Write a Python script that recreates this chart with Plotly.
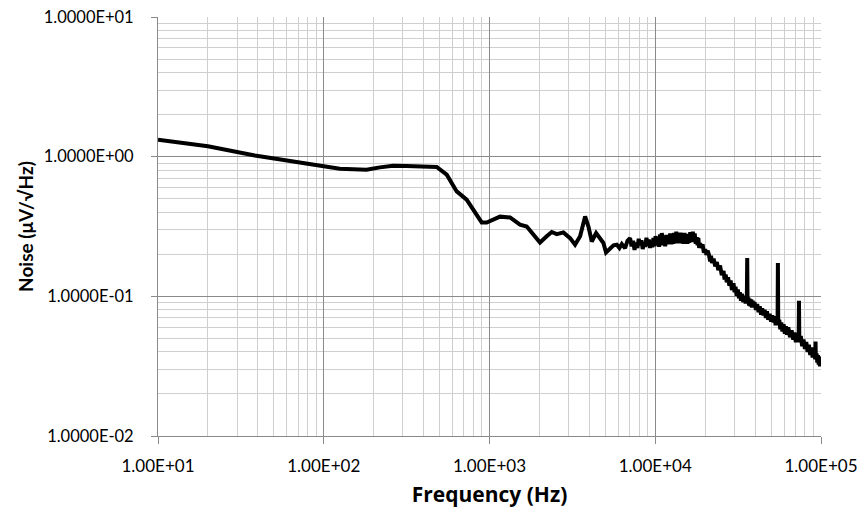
import plotly.graph_objects as go

# Frequency (Hz) and noise (uV/sqrt(Hz))
# Low-frequency part (smooth)
freq_low = [10, 20, 38.4, 60.7, 100, 125, 150, 181, 218, 262, 316, 398, 480,
            552, 634, 728, 798, 897, 962, 1054, 1157, 1330, 1459, 1528, 1677,
            1838, 2017, 2213, 2375, 2546, 2792, 3064, 3283, 3521, 3700, 3775,
            3953, 4142, 4397, 4648, 4866, 5047, 5340, 5600, 5862, 6080, 6283,
            6577, 6800]
noise_low = [1.32, 1.186, 1.02, 0.93, 0.855, 0.82, 0.807, 0.805, 0.838, 0.862, 0.858, 0.85, 0.845,
             0.743, 0.564, 0.492, 0.417, 0.338, 0.338, 0.357, 0.372, 0.367, 0.34, 0.326, 0.316,
             0.276, 0.243, 0.269, 0.289, 0.279, 0.287, 0.261, 0.234, 0.269, 0.34, 0.373,
             0.316, 0.247, 0.284, 0.261, 0.241, 0.206, 0.218, 0.232, 0.234, 0.222, 0.237,
             0.221, 0.25]

# Noisy plateau (about 7 kHz - 20 kHz)
freq_mid = [7048, 7200, 7350, 7500, 7650, 7800, 7950, 8110, 8250, 8400,
            8550, 8690, 8850, 9000, 9150, 9311, 9450, 9600, 9750, 9900,
            10050, 10230, 10400, 10550, 10700, 10850, 10960, 11100, 11300, 11480,
            11650, 11800, 12000, 12150, 12300, 12500, 12700, 12850, 13000, 13190,
            13400, 13600, 13810, 14000, 14200, 14400, 14600, 14800, 15000, 15200,
            15400, 15640, 15850, 16050, 16250, 16500, 16700, 16860, 17050, 17300,
            17550, 17820, 18000, 18200, 18400, 18660, 19000, 19300, 19650, 20000,
            20350, 20700]
noise_mid = [0.261, 0.228, 0.25, 0.215, 0.242, 0.222, 0.258, 0.232, 0.252, 0.218,
             0.245, 0.226, 0.262, 0.23, 0.255, 0.222, 0.25, 0.225, 0.262, 0.228,
             0.27, 0.232, 0.265, 0.226, 0.278, 0.235, 0.284, 0.232, 0.27, 0.228,
             0.275, 0.236, 0.272, 0.24, 0.282, 0.236, 0.274, 0.238, 0.285, 0.245,
             0.29, 0.24, 0.278, 0.242, 0.286, 0.24, 0.275, 0.238, 0.284, 0.244,
             0.28, 0.238, 0.276, 0.242, 0.288, 0.246, 0.278, 0.29, 0.245, 0.282,
             0.238, 0.265, 0.232, 0.262, 0.222, 0.24, 0.222, 0.236, 0.205, 0.218,
             0.198, 0.212]

# Roll-off with interference spikes (about 21 kHz - 100 kHz)
freq_high = [21050, 21440, 21700, 22000, 22500, 23000, 23540, 24000, 24600, 25200,
             25820, 26200, 26600, 27000, 27500, 28000, 28500, 29000, 29650, 30100,
             30500, 31000, 31500, 32000, 32400, 32900, 33330, 34000, 34500, 35100,
             35700, 35880, 36050, 36400, 36800, 37100, 37500, 37900, 38300, 38700,
             39170, 39700, 40500, 41200, 42000, 42700, 43500, 44200, 44990, 45700,
             46500, 47200, 48000, 49000, 50000, 50800, 51720, 52500, 53200, 54000,
             54700, 54950, 55200, 56000, 56800, 57600, 58500, 59500, 60500, 61400,
             62370, 63500, 65000, 66500, 68000, 69200, 70500, 71800, 73300, 73650,
             74000, 75500, 77000, 78500, 80000, 81500, 83000, 84500, 86100, 87500,
             89000, 90500, 92300, 92700, 93100, 94000, 95000, 96000, 96800, 97700,
             98500, 99300, 100000]
noise_high = [0.2, 0.178, 0.195, 0.173, 0.186, 0.164, 0.176, 0.154, 0.166, 0.142,
              0.152, 0.132, 0.143, 0.126, 0.137, 0.119, 0.13, 0.111, 0.124, 0.107,
              0.117, 0.101, 0.112, 0.097, 0.107, 0.093, 0.104, 0.091, 0.101, 0.089,
              0.099, 0.188, 0.09, 0.098, 0.086, 0.096, 0.085, 0.095, 0.083, 0.093,
              0.084, 0.091, 0.08, 0.088, 0.077, 0.085, 0.074, 0.082, 0.073, 0.08,
              0.07, 0.078, 0.068, 0.075, 0.066, 0.073, 0.065, 0.072, 0.062, 0.07,
              0.063, 0.173, 0.062, 0.068, 0.058, 0.065, 0.056, 0.063, 0.054, 0.061,
              0.053, 0.06, 0.051, 0.057, 0.049, 0.055, 0.047, 0.052, 0.047, 0.0929,
              0.047, 0.052, 0.044, 0.049, 0.042, 0.047, 0.04, 0.045, 0.038, 0.043,
              0.0365, 0.041, 0.0355, 0.0474, 0.0355, 0.039, 0.0335, 0.038, 0.0325, 0.037,
              0.0315, 0.036, 0.0315]

assert len(freq_low) == len(noise_low)
assert len(freq_mid) == len(noise_mid)
assert len(freq_high) == len(noise_high)

freq = freq_low + freq_mid + freq_high
noise = noise_low + noise_mid + noise_high

x_tickvals = [1e1, 1e2, 1e3, 1e4, 1e5]
x_ticktext = ["1.00E+01", "1.00E+02", "1.00E+03", "1.00E+04", "1.00E+05"]
y_tickvals = [1e-2, 1e-1, 1e0, 1e1]
y_ticktext = ["1.0000E-02", "1.0000E-01", "1.0000E+00", "1.0000E+01"]

FONT = "Lato"
TITLE_FONT = "Open Sans"
MAJOR = "#8a8a8a"
MINOR = "#cfcfcf"

fig = go.Figure()
fig.add_trace(go.Scatter(
    x=freq, y=noise, mode="lines",
    line=dict(color="#000000", width=4),
    hoverinfo="x+y",
))

fig.update_xaxes(
    type="log", range=[1, 5],
    tickmode="array", tickvals=x_tickvals, ticktext=x_ticktext,
    tickfont=dict(family=FONT, size=17, color="#000000"),
    ticks="outside", ticklen=7, tickcolor=MAJOR, tickwidth=1,
    ticklabelstandoff=8,
    showgrid=True, gridcolor=MAJOR, gridwidth=1,
    showline=True, linecolor=MAJOR, linewidth=1,
    zeroline=False,
    minor=dict(dtick="D1", showgrid=True, gridcolor=MINOR, gridwidth=1, ticks=""),
    title=dict(text="Frequency (Hz)", font=dict(family=TITLE_FONT, size=21, color="#000000", weight="bold"), standoff=11),
)
fig.update_yaxes(
    type="log", range=[-2, 1],
    tickmode="array", tickvals=y_tickvals, ticktext=y_ticktext,
    tickfont=dict(family=FONT, size=16.5, color="#000000"),
    ticks="outside", ticklen=6, tickcolor=MAJOR, tickwidth=1,
    ticklabelstandoff=14,
    showgrid=True, gridcolor=MAJOR, gridwidth=1,
    showline=True, linecolor=MAJOR, linewidth=1,
    zeroline=False,
    minor=dict(dtick="D1", showgrid=True, gridcolor=MINOR, gridwidth=1, ticks=""),
    title=dict(text="Noise (μV/√Hz)", font=dict(family=FONT, size=19, color="#000000", weight="bold"), standoff=5),
)
fig.update_layout(
    width=860, height=508,
    margin=dict(l=158, r=39, t=17, b=72, autoexpand=False),
    plot_bgcolor="#ffffff", paper_bgcolor="#ffffff",
    showlegend=False,
)
fig.write_html("out.html", config={"displayModeBar": False},
               post_script="document.body.style.margin='0';")
